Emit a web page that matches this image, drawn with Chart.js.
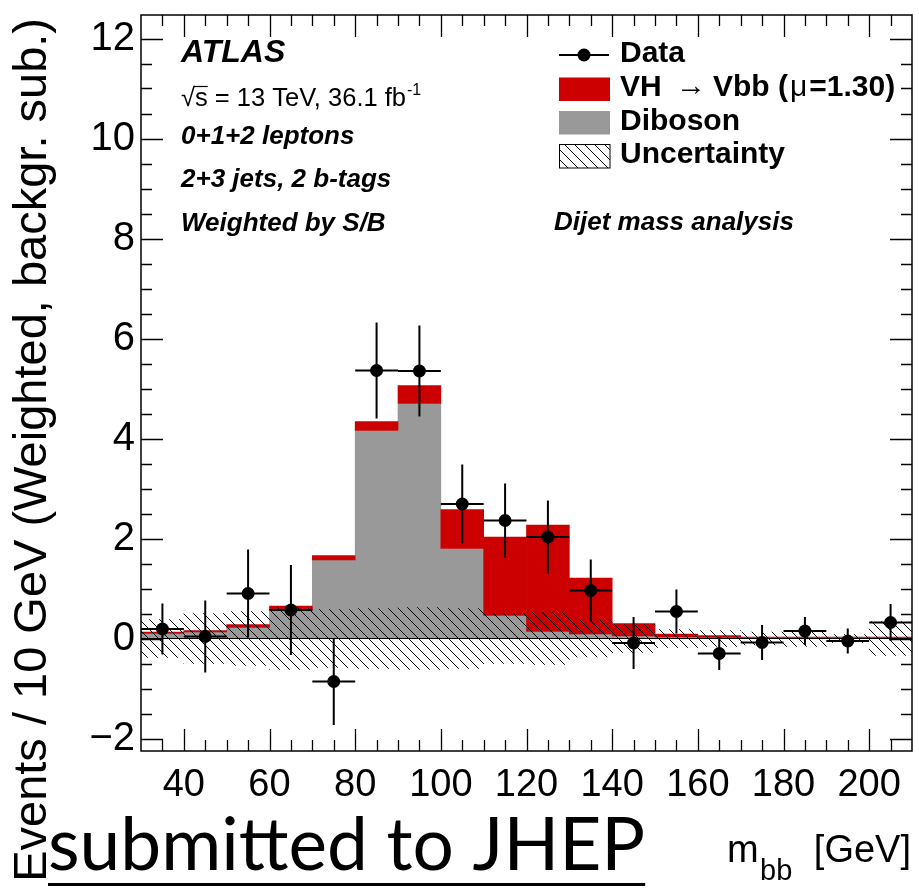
<!DOCTYPE html>
<html lang="en">
<head>
<meta charset="UTF-8">
<title>VH to Vbb - dijet mass</title>
<style>
  body { margin: 0; padding: 0; background: #fff; }
  canvas { display: block; }
</style>
</head>
<body>
<canvas id="mbbChart" width="919" height="895"></canvas>
<script src="https://cdn.jsdelivr.net/npm/chart.js@4"></script>
<script>
// m_bb bins, 10 GeV wide
const binWidth = 10;
const binCentres = [35, 45, 55, 65, 75, 85, 95, 105, 115, 125, 135, 145, 155, 165, 175, 185, 195, 205];
// background-subtracted data and its error
const dataValues = [0.19, 0.04, 0.90, 0.57, -0.86, 5.36, 5.35, 2.69, 2.36, 2.03, 0.96, -0.09, 0.54, -0.30, -0.08, 0.15, -0.05, 0.32];
const dataErrors = [0.51, 0.72, 0.88, 0.90, 0.87, 0.96, 0.91, 0.79, 0.74, 0.73, 0.62, 0.52, 0.44, 0.33, 0.35, 0.28, 0.25, 0.37];
// stacked predictions
const dibosonValues = [0.10, 0.13, 0.22, 0.57, 1.57, 4.16, 4.70, 1.80, 0.46, 0.14, 0.09, 0.05, 0.03, 0.02, 0.02, 0.02, 0.02, 0.02];
const vhValues = [0.03, 0.03, 0.06, 0.08, 0.09, 0.18, 0.36, 0.78, 1.57, 2.13, 1.12, 0.25, 0.06, 0.04, 0.01, 0.01, 0.01, 0.01];
// half-width of the uncertainty band around zero
const uncertainty = [0.38, 0.50, 0.54, 0.62, 0.58, 0.60, 0.62, 0.60, 0.50, 0.52, 0.37, 0.28, 0.18, 0.16, 0.13, 0.16, 0.08, 0.34];

const xTicks = [40, 60, 80, 100, 120, 140, 160, 180, 200];
const yTicks = [-2, 0, 2, 4, 6, 8, 10, 12];

const RED = '#cc0000';
const GREY = '#999999';
const FONT = '"Liberation Sans", Arial, Helvetica, sans-serif';

// "\\\\" hatching, like ROOT fill style 3005
function hatchPattern() {
  const c = document.createElement('canvas');
  c.width = 10; c.height = 10;
  const g = c.getContext('2d');
  g.strokeStyle = '#000';
  g.lineWidth = 1;
  g.beginPath();
  g.moveTo(-2, -2); g.lineTo(12, 12);
  g.moveTo(8, -2); g.lineTo(12, 2);
  g.moveTo(-2, 8); g.lineTo(2, 12);
  g.stroke();
  return g.createPattern(c, 'repeat');
}
const hatch = hatchPattern();

const pointsData = binCentres.map((x, i) => ({x, y: dataValues[i]}));
const dibosonBars = binCentres.map((x, i) => ({x, y: [0, dibosonValues[i]]}));
const vhBars = binCentres.map((x, i) => ({x, y: [dibosonValues[i], dibosonValues[i] + vhValues[i]]}));
const bandBars = binCentres.map((x, i) => ({x, y: [-uncertainty[i], uncertainty[i]]}));

// zero line + error bars, drawn just before the data markers
const errorBars = {
  id: 'errorBars',
  beforeDatasetDraw(chart, args) {
    if (args.index !== 0) return;
    const {ctx, chartArea: a, scales: {x, y}} = chart;
    ctx.save();
    ctx.strokeStyle = '#000';
    ctx.lineWidth = 1.2;
    const y0 = y.getPixelForValue(0);
    ctx.beginPath();
    ctx.moveTo(a.left, y0); ctx.lineTo(a.right, y0);
    ctx.stroke();
    ctx.lineWidth = 2;
    ctx.beginPath();
    binCentres.forEach((c, i) => {
      const px = x.getPixelForValue(c);
      const py = y.getPixelForValue(dataValues[i]);
      ctx.moveTo(x.getPixelForValue(c - binWidth / 2), py);
      ctx.lineTo(x.getPixelForValue(c + binWidth / 2), py);
      ctx.moveTo(px, y.getPixelForValue(dataValues[i] + dataErrors[i]));
      ctx.lineTo(px, y.getPixelForValue(dataValues[i] - dataErrors[i]));
    });
    ctx.stroke();
    ctx.restore();
  }
};

// ROOT style frame with inward ticks on all four sides
const frameTicks = {
  id: 'frameTicks',
  afterDatasetsDraw(chart) {
    const {ctx, chartArea: a, scales: {x, y}} = chart;
    ctx.save();
    ctx.strokeStyle = '#000';
    ctx.lineWidth = 1.5;
    ctx.strokeRect(a.left, a.top, a.right - a.left, a.bottom - a.top);
    ctx.lineWidth = 1.3;
    ctx.beginPath();
    for (let v = 35; v < 210; v += 5) {
      const px = Math.round(x.getPixelForValue(v)) + 0.5;
      const len = v % 20 === 0 ? 22 : 11;
      ctx.moveTo(px, a.bottom); ctx.lineTo(px, a.bottom - len);
      ctx.moveTo(px, a.top); ctx.lineTo(px, a.top + len);
    }
    for (let v = -2; v <= 12; v += 0.5) {
      const py = Math.round(y.getPixelForValue(v)) + 0.5;
      const len = v % 2 === 0 ? 22 : 11;
      ctx.moveTo(a.left, py); ctx.lineTo(a.left + len, py);
      ctx.moveTo(a.right, py); ctx.lineTo(a.right - len, py);
    }
    ctx.stroke();
    ctx.restore();
  }
};

// labels, legend and axis titles
const annotations = {
  id: 'annotations',
  afterDraw(chart) {
    const ctx = chart.ctx;
    ctx.save();
    ctx.fillStyle = '#000';
    ctx.textBaseline = 'alphabetic';
    ctx.textAlign = 'left';

    ctx.font = 'italic bold 32px ' + FONT;
    ctx.fillText('ATLAS', 181, 62);

    ctx.font = '25.5px ' + FONT;
    const rootW = ctx.measureText('\u221A').width;
    const sW = ctx.measureText('s').width;
    ctx.fillText('\u221As = 13 TeV, 36.1 fb', 181, 106);
    const lumiEnd = 181 + ctx.measureText('\u221As = 13 TeV, 36.1 fb').width;
    ctx.strokeStyle = '#000';
    ctx.lineWidth = 1.2;
    ctx.beginPath();
    ctx.moveTo(181 + rootW - 1, 86.5); ctx.lineTo(181 + rootW + sW, 86.5);
    ctx.stroke();
    ctx.font = '16px ' + FONT;
    ctx.fillText('-1', lumiEnd + 1, 95);

    ctx.font = 'italic bold 26px ' + FONT;
    ctx.fillText('0+1+2 leptons', 181, 144);
    ctx.fillText('2+3 jets, 2 b-tags', 181, 187);
    ctx.fillText('Weighted by S/B', 181, 231);
    ctx.fillText('Dijet mass analysis', 554, 230);

    // legend
    ctx.lineWidth = 2;
    ctx.beginPath();
    ctx.moveTo(559, 55); ctx.lineTo(609, 55);
    ctx.stroke();
    ctx.beginPath();
    ctx.arc(584, 55, 6.5, 0, Math.PI * 2);
    ctx.fill();
    ctx.fillStyle = RED;
    ctx.fillRect(559, 77.5, 51, 23.5);
    ctx.fillStyle = GREY;
    ctx.fillRect(559, 111, 51, 23.5);
    ctx.fillStyle = hatch;
    ctx.fillRect(559, 144.5, 51, 23.5);
    ctx.lineWidth = 1;
    ctx.strokeRect(559.5, 144.5, 50.5, 23.5);

    ctx.fillStyle = '#000';
    const bold = 'bold 30px ' + FONT;
    const plain = '30px ' + FONT;
    ctx.font = bold;
    ctx.fillText('Data', 620, 62);
    ctx.fillText('VH', 620, 96);
    ctx.fillText('Diboson', 620, 129.5);
    ctx.fillText('Uncertainty', 620, 163);
    ctx.font = plain;
    ctx.fillText('\u2192', 676, 95);
    // "Vbb (mu=1.30)" with a plain-weight mu
    let cx = 713;
    ctx.font = bold;
    ctx.fillText('Vbb (', cx, 96);
    cx += ctx.measureText('Vbb (').width + 2;
    ctx.font = plain;
    ctx.fillText('\u03BC', cx, 96);
    cx += ctx.measureText('\u03BC').width + 2;
    ctx.font = bold;
    ctx.fillText('=1.30)', cx, 96);

    // x axis title
    ctx.font = '38px ' + FONT;
    ctx.fillText('m', 727, 862);
    ctx.font = '29px ' + FONT;
    ctx.fillText('bb', 760, 880);
    ctx.font = '38px ' + FONT;
    ctx.textAlign = 'right';
    ctx.fillText('[GeV]', 911, 862);

    // y axis title, end aligned with the top of the frame
    ctx.save();
    ctx.translate(46, 18);
    ctx.rotate(-Math.PI / 2);
    ctx.font = '47px ' + FONT;
    ctx.textAlign = 'right';
    ctx.fillText('Events / 10 GeV (Weighted, backgr. sub.)', 0, 0);
    ctx.restore();

    // journal stamp
    ctx.textAlign = 'left';
    ctx.font = '73px Lato, "Open Sans", sans-serif';
    ctx.fillText('submitted to JHEP', 48, 870);
    const stampW = ctx.measureText('submitted to JHEP').width;
    ctx.fillRect(48, 883, stampW, 3);
    ctx.restore();
  }
};

const minusLabel = v => (v < 0 ? '\u2212' + Math.abs(v) : String(v));

new Chart(document.getElementById('mbbChart'), {
  type: 'bar',
  data: {
    datasets: [
      {
        type: 'scatter',
        label: 'Data',
        data: pointsData,
        backgroundColor: '#000',
        borderWidth: 0,
        pointRadius: 6.5,
        order: 0
      },
      {
        label: 'Uncertainty',
        data: bandBars,
        backgroundColor: hatch,
        borderWidth: 0,
        grouped: false,
        order: 1
      },
      {
        label: 'VH \u2192 Vbb (\u03BC=1.30)',
        data: vhBars,
        backgroundColor: RED,
        borderWidth: 0,
        grouped: false,
        order: 2
      },
      {
        label: 'Diboson',
        data: dibosonBars,
        backgroundColor: GREY,
        borderWidth: 0,
        grouped: false,
        order: 3
      }
    ]
  },
  options: {
    responsive: false,
    animation: false,
    devicePixelRatio: 1,
    barPercentage: 1,
    categoryPercentage: 1,
    layout: { padding: { top: 15, right: 7, left: 0, bottom: 0 } },
    plugins: { legend: { display: false }, tooltip: { enabled: false } },
    scales: {
      x: {
        type: 'linear',
        offset: false,
        min: 30,
        max: 210,
        grid: { display: false, drawTicks: false },
        border: { display: false },
        afterBuildTicks: s => { s.ticks = xTicks.map(v => ({value: v})); },
        afterFit: s => { s.height = 144; s.paddingLeft = 0; s.paddingRight = 0; },
        ticks: {
          color: '#000',
          padding: 12,
          maxRotation: 0,
          autoSkip: false,
          font: { family: FONT, size: 38 }
        }
      },
      y: {
        min: -2.25,
        max: 12.47,
        grid: { display: false, drawTicks: false },
        border: { display: false },
        afterBuildTicks: s => { s.ticks = yTicks.map(v => ({value: v})); },
        afterFit: s => { s.width = 141; s.paddingTop = 0; s.paddingBottom = 0; },
        ticks: {
          color: '#000',
          padding: 6,
          autoSkip: false,
          callback: minusLabel,
          font: { family: FONT, size: 40 }
        }
      }
    }
  },
  plugins: [errorBars, frameTicks, annotations]
});
</script>
</body>
</html>
